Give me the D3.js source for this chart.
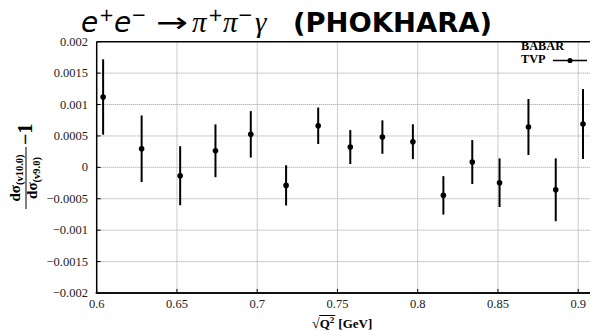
<!DOCTYPE html>
<html><head><meta charset="utf-8">
<script src="https://cdn.jsdelivr.net/npm/d3@7"></script>
<style>body{margin:0;background:#fff}svg{display:block}</style>
</head><body>
<svg id="c" width="590" height="331"></svg>
<script>
const xVals = [0.604, 0.628, 0.652, 0.674, 0.696, 0.718, 0.738, 0.758, 0.778, 0.797, 0.816, 0.834, 0.851, 0.869, 0.886, 0.903];
const yVals = [0.00112, 0.000296, -0.000134, 0.000264, 0.000525, -0.000287, 0.000662, 0.000323, 0.000482, 0.000408, -0.000446, 0.000084, -0.000245, 0.000642, -0.000357, 0.00069];
const yErrs = [0.0006, 0.00053, 0.00047, 0.00042, 0.00037, 0.00032, 0.00029, 0.00027, 0.000266, 0.000277, 0.000306, 0.00035, 0.000387, 0.000446, 0.0005, 0.000557];
const xTicks = [0.6, 0.65, 0.7, 0.75, 0.8, 0.85, 0.9];
const xTickLabels = ["0.6", "0.65", "0.7", "0.75", "0.8", "0.85", "0.9"];
const yTicks = [-0.002, -0.0015, -0.001, -0.0005, 0, 0.0005, 0.001, 0.0015, 0.002];
const yTickLabels = ["\u22120.002", "\u22120.0015", "\u22120.001", "\u22120.0005", "0", "0.0005", "0.001", "0.0015", "0.002"];

const svg = d3.select("#c");
const L = 96.7, T = 41.7, B = 293.0;
const x = d3.scaleLinear().domain([0.6, 0.91]).range([L, L + 0.31 * 1605]);
const y = d3.scaleLinear().domain([-0.002, 0.002]).range([B, T]);
const R = x(0.91);
const serif = "'Liberation Serif', 'DejaVu Serif', serif";

// grid
const g = svg.append("g");
g.selectAll("line.vg").data(xTicks.slice(1)).join("line")
  .attr("x1", d => x(d)).attr("x2", d => x(d)).attr("y1", T).attr("y2", B)
  .attr("stroke", "#999").attr("stroke-width", 1).attr("stroke-dasharray", "1,1");
g.selectAll("line.hg").data(yTicks.slice(1, -1)).join("line")
  .attr("y1", d => y(d)).attr("y2", d => y(d)).attr("x1", L).attr("x2", R)
  .attr("stroke", "#999").attr("stroke-width", 1).attr("stroke-dasharray", "1,1");

// tick marks (inward)
g.selectAll("line.yt").data(yTicks).join("line")
  .attr("x1", L).attr("x2", L + 4).attr("y1", d => y(d)).attr("y2", d => y(d))
  .attr("stroke", "#000").attr("stroke-width", 1);
g.selectAll("line.xt").data(xTicks).join("line")
  .attr("x1", d => x(d)).attr("x2", d => x(d)).attr("y1", B).attr("y2", B - 4)
  .attr("stroke", "#000").attr("stroke-width", 1);

// frame
svg.append("line").attr("x1", L).attr("x2", R).attr("y1", T).attr("y2", T).attr("stroke", "#000").attr("stroke-width", 1.5);
svg.append("line").attr("x1", L).attr("x2", L).attr("y1", T).attr("y2", B).attr("stroke", "#000").attr("stroke-width", 1.5);
svg.append("line").attr("x1", L - 1).attr("x2", R).attr("y1", B).attr("y2", B).attr("stroke", "#111").attr("stroke-width", 2.2);

// tick labels
svg.selectAll("text.xl").data(xTicks).join("text")
  .attr("x", d => x(d)).attr("y", 308).attr("text-anchor", "middle")
  .attr("font-family", serif).attr("font-size", 12.5).attr("fill", "#222")
  .text((d, i) => xTickLabels[i]);
svg.selectAll("text.yl").data(yTicks).join("text")
  .attr("x", 88).attr("y", d => y(d) + 4).attr("text-anchor", "end")
  .attr("font-family", serif).attr("font-size", 12.5).attr("fill", "#222")
  .text((d, i) => yTickLabels[i]);

// data
const pts = xVals.map((v, i) => ({x: v, y: yVals[i], e: yErrs[i]}));
svg.selectAll("line.err").data(pts).join("line")
  .attr("x1", d => x(d.x)).attr("x2", d => x(d.x))
  .attr("y1", d => y(d.y + d.e)).attr("y2", d => y(d.y - d.e))
  .attr("stroke", "#000").attr("stroke-width", 2);
svg.selectAll("circle.pt").data(pts).join("circle")
  .attr("cx", d => x(d.x)).attr("cy", d => y(d.y)).attr("r", 2.8).attr("fill", "#000");

// legend
svg.append("text").attr("x", 521).attr("y", 50).attr("font-family", serif).attr("font-weight", "bold")
  .attr("font-size", 12.3).text("BABAR");
svg.append("text").attr("x", 521).attr("y", 63).attr("font-family", serif).attr("font-weight", "bold")
  .attr("font-size", 12.3).text("TVP");
svg.append("line").attr("x1", 553).attr("x2", 587).attr("y1", 60.5).attr("y2", 60.5).attr("stroke", "#000").attr("stroke-width", 1.5);
svg.append("circle").attr("cx", 570).attr("cy", 60.5).attr("r", 2.6).attr("fill", "#000");

// title pieces, laid out left to right
const sans = "'DejaVu Sans', sans-serif";
const tb = 32, ts = 21;
const pieces = [
  {t: "e", x: 81, y: tb, fs: 28, fam: sans, st: "italic"},
  {t: "+", x: 99, y: ts, fs: 18, fam: sans},
  {t: "e", x: 113, y: tb, fs: 28, fam: sans, st: "italic"},
  {t: "\u2212", x: 130, y: ts, fs: 18, fam: sans},
  {t: "\u2192", x: 156, y: tb, fs: 28, fam: sans, w: 32},
  {t: "\u03c0", x: 192, y: tb, fs: 29, fam: serif, st: "italic"},
  {t: "+", x: 208, y: ts, fs: 18, fam: sans},
  {t: "\u03c0", x: 221, y: tb, fs: 29, fam: serif, st: "italic"},
  {t: "\u2212", x: 237, y: ts, fs: 18, fam: sans},
  {t: "\u03b3", x: 255, y: tb, fs: 29, fam: serif, st: "italic"},
  {t: "(PHOKHARA)", x: 293, y: tb, fs: 27, fam: sans, fw: "bold", w: 199}
];
let prevEnd = 0;
pieces.forEach(p => {
  const t = svg.append("text").attr("y", p.y).attr("font-family", p.fam)
    .attr("font-size", p.fs).attr("font-style", p.st || "normal")
    .attr("font-weight", p.fw || "normal").text(p.t);
  let w = t.node().getComputedTextLength();
  if (p.w) {
    if (p.t.length > 1) { t.attr("font-size", p.fs * p.w / w); }
    t.attr("textLength", p.w).attr("lengthAdjust", "spacingAndGlyphs");
    w = p.w;
  }
  const px = Math.max(p.x, prevEnd);
  t.attr("x", px);
  prevEnd = px + w;
});

// x label
const xlFs = 13;
const rad = svg.append("text").attr("x", 312).attr("y", 328).attr("font-family", serif).attr("font-size", xlFs + 1).text("\u221a");
const radW = rad.node().getComputedTextLength();
const q = svg.append("text").attr("x", 312 + radW).attr("y", 328).attr("font-family", serif).attr("font-weight", "bold").attr("font-size", xlFs);
q.append("tspan").text("Q");
q.append("tspan").attr("dy", -5).attr("font-size", 9).text("2");
const qW = q.node().getComputedTextLength();
svg.append("line").attr("x1", 312 + radW - 0.5).attr("x2", 312 + radW + qW + 1).attr("y1", 315.5).attr("y2", 315.5).attr("stroke", "#000").attr("stroke-width", 1);
svg.append("text").attr("x", 312 + radW + qW + 4).attr("y", 328).attr("font-family", serif).attr("font-weight", "bold").attr("font-size", xlFs).text("[GeV]");

// y label (rotated fraction)
const yl = svg.append("g").attr("transform", "translate(26,178) rotate(-90)");
const num = yl.append("text").attr("x", 0).attr("y", -6).attr("text-anchor", "middle")
  .attr("font-family", serif).attr("font-weight", "bold").attr("font-size", 15);
num.append("tspan").text("d\u03c3");
num.append("tspan").attr("dy", 3).attr("font-size", 10.5).text("(v10.0)");
const den = yl.append("text").attr("x", 0).attr("y", 11).attr("text-anchor", "middle")
  .attr("font-family", serif).attr("font-weight", "bold").attr("font-size", 15);
den.append("tspan").text("d\u03c3");
den.append("tspan").attr("dy", 3).attr("font-size", 10.5).text("(v9.0)");
yl.append("line").attr("x1", -31).attr("x2", 31).attr("y1", 0).attr("y2", 0).attr("stroke", "#000").attr("stroke-width", 1);
yl.append("text").attr("x", 33).attr("y", 6).attr("font-family", serif).attr("font-weight", "bold").attr("font-size", 20).text("\u22121");
</script>
</body></html>
